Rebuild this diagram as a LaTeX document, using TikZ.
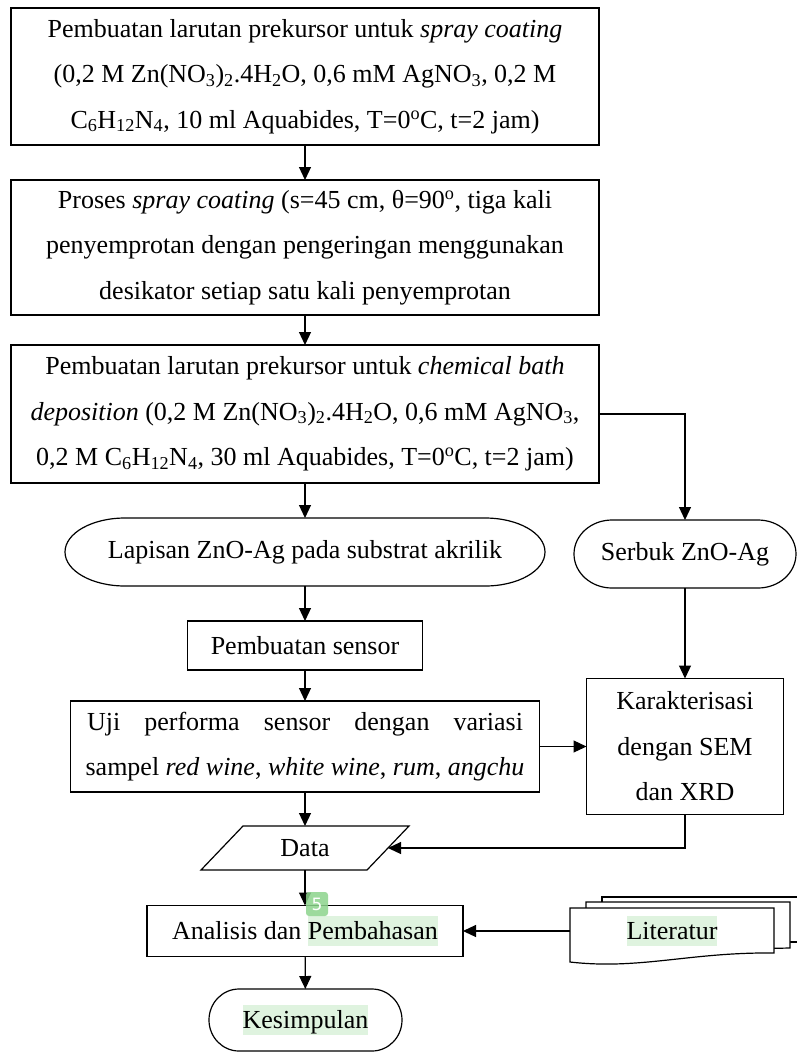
\documentclass[tikz,border=0pt]{standalone}
\usepackage{fontspec}
\setmainfont{Liberation Serif}
\newfontfamily\badgefont{DejaVu Sans}
\usetikzlibrary{arrows.meta}
\definecolor{hlgreen}{RGB}{223,243,223}
\definecolor{badgegreen}{RGB}{140,212,140}
% highlighted word
\newcommand\hlw[1]{{\setlength\fboxsep{0pt}\colorbox{hlgreen}{\rule[-0.25em]{0pt}{1.15em}#1}}}
% terminal shape with elliptic ends round a node
\newcommand\capsule[3]{\draw ([xshift=#2pt]#1.north west) -- ([xshift=-#2pt]#1.north east)
  arc[start angle=90,end angle=-90,x radius=#2pt,y radius=#3pt] -- ([xshift=#2pt]#1.south west)
  arc[start angle=270,end angle=90,x radius=#2pt,y radius=#3pt] -- cycle;}
\begin{document}
\begin{tikzpicture}[x=1pt,y=-1pt,>={Triangle[width=12pt,length=13pt]},line width=1.2pt,
  every node/.style={font=\fontsize{26}{45.5}\selectfont,inner sep=0pt,outer sep=0pt,align=center},
  box/.style={draw,minimum width=#1}]
\clip (0,0) rectangle (797,1053);
\fill[white] (0,0) rectangle (797,1053);
\node[box=588, minimum height=137] (prek1) at (305,76.5) {Pembuatan larutan prekursor untuk \textit{spray coating}\\
  (0,2 M Zn(NO\textsubscript{3})\textsubscript{2}.4H\textsubscript{2}O, 0,6 mM AgNO\textsubscript{3}, 0,2 M\\
  C\textsubscript{6}H\textsubscript{12}N\textsubscript{4}, 10 ml Aquabides, T=0\textsuperscript{o}C, t=2 jam)};
\node[box=588, minimum height=135] (proses) at (305,247.5) {Proses \textit{spray coating} (s=45 cm, θ=90\textsuperscript{o}, tiga kali\\
  penyemprotan dengan pengeringan menggunakan\\
  desikator setiap satu kali penyemprotan};
\node[box=588, minimum height=138] (prek2) at (305,414) {Pembuatan larutan prekursor untuk \textit{chemical bath}\\
  \textit{deposition} (0,2 M Zn(NO\textsubscript{3})\textsubscript{2}.4H\textsubscript{2}O, 0,6 mM AgNO\textsubscript{3},\\
  0,2 M C\textsubscript{6}H\textsubscript{12}N\textsubscript{4}, 30 ml Aquabides, T=0\textsuperscript{o}C, t=2 jam)};
\node[minimum width=480, minimum height=68] (lapisan) at (305,552) {Lapisan ZnO-Ag pada substrat akrilik};
\capsule{lapisan}{60}{34}
\node[minimum width=222, minimum height=68] (serbuk) at (685,554) {Serbuk ZnO-Ag};
\capsule{serbuk}{38}{34}
\node[box=235, minimum height=49] (sensor) at (305,645.5) {Pembuatan sensor};
\node[box=469, minimum height=91] (uji) at (305,746.5) {\makebox[436pt][s]{Uji performa sensor dengan variasi}\\
  sampel \textit{red wine}, \textit{white wine}, \textit{rum}, \textit{angchu}};
\node[box=197, minimum height=136] (karakter) at (685,746.5) {Karakterisasi\\ dengan SEM\\ dan XRD};
\node[minimum width=166, minimum height=44] (data) at (305,848) {Data};
\draw ([xshift=21pt]data.north west) -- ([xshift=21pt]data.north east)
  -- ([xshift=-21pt]data.south east) -- ([xshift=-21pt]data.south west) -- cycle;
\node[box=316, minimum height=51] (analisis) at (305,931) {Analisis dan \hlw{Pembahasan}};
\node[minimum width=193, minimum height=62] (kesimpulan) at (305.5,1020) {\hlw{Kesimpulan}};
\capsule{kesimpulan}{30}{31}
% literatur, three sheets
\draw[fill=white] (602,942) -- (602,897) -- (820,897) -- (820,942) -- cycle;
\draw[fill=white] (586,952) -- (586,902) -- (790,902) -- (790,948) -- cycle;
\draw[fill=white] (570,962) -- (570,908) -- (774,908) -- (774,953)
  .. controls (690,952) and (640,970) .. (570,962) -- cycle;
\node[minimum width=204, minimum height=46] (lit) at (672,931) {\hlw{Literatur}};
% connectors
\draw[->] (prek1) -- (proses);
\draw[->] (proses) -- (prek2);
\draw[->] (prek2) -- (lapisan);
\draw[->] (prek2.east) -| (serbuk.north);
\draw[->] (lapisan) -- (sensor);
\draw[->] (sensor) -- (uji);
\draw[->] (serbuk) -- (karakter);
\draw[->] (uji) -- (karakter);
\draw[->] (uji) -- (data);
\draw[->] (karakter.south) |- (data.east);
\draw[->] (data) -- (analisis);
\draw[->] (lit.west) -- (analisis.east);
\draw[->] (analisis) -- (kesimpulan);
\node[fill=badgegreen, fill opacity=0.85, text opacity=1, text=white, rounded corners=3pt,
  minimum width=22, minimum height=24, font=\badgefont\fontsize{17}{17}\selectfont] (badge) at (317,904) {5};
\end{tikzpicture}
\end{document}
